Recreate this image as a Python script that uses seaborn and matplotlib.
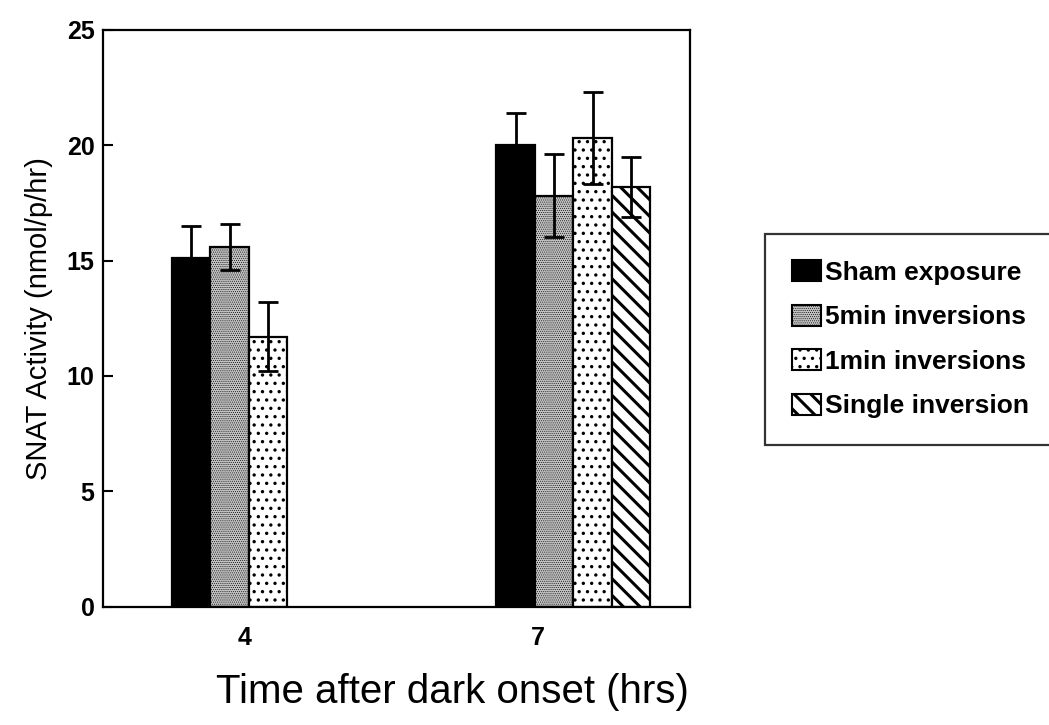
import numpy as np
import matplotlib.pyplot as plt
import pandas as pd
import seaborn as sns
from matplotlib.patches import Patch

# values
times = ["4", "7"]
treatments = ["Sham exposure", "5min inversions", "1min inversions", "Single inversion"]
snat_4 = [15.1, 15.6, 11.7]
snat_7 = [20.0, 17.8, 20.3, 18.2]
sem_4 = [1.4, 1.0, 1.5]
sem_7 = [1.4, 1.8, 2.0, 1.3]

colors = {"Sham exposure": "black", "5min inversions": "#c2c2c2",
          "1min inversions": "white", "Single inversion": "white"}
hatches = ["", "........", "..", "\\\\"]
hatch_lw = [1.0, 0.4, 1.2, 2.2]

rows = []
for t, vals, errs in [("4", snat_4, sem_4), ("7", snat_7, sem_7)]:
    for trt, v, e in zip(treatments, vals, errs):
        rows.append({"time": t, "treatment": trt, "snat": v, "sem": e})
df = pd.DataFrame(rows)

sns.set_theme(style="ticks")
plt.rcParams["font.family"] = ["Liberation Sans", "DejaVu Sans"]
plt.rcParams["hatch.linewidth"] = 2.0
for k in ["text.color", "axes.labelcolor", "xtick.color", "ytick.color"]:
    plt.rcParams[k] = "black"

fig = plt.figure(figsize=(10.49, 7.25), dpi=100)
ax = fig.add_axes([0.098, 0.163, 0.56, 0.796])

sns.barplot(data=df, x="time", y="snat", hue="treatment", order=times, hue_order=treatments,
            palette=colors, width=0.475, edgecolor="black", linewidth=1.6, errorbar=None,
            legend=False, ax=ax)


def style_patch(p, i):
    p.set_hatch(hatches[i])
    if hasattr(p, "set_hatch_linewidth"):
        p.set_hatch_linewidth(hatch_lw[i])


bar_containers = list(ax.containers)
for i, cont in enumerate(bar_containers):
    trt = treatments[i]
    sub = df[df["treatment"] == trt].set_index("time")
    for bar in cont:
        style_patch(bar, i)
        xc = bar.get_x() + bar.get_width() / 2
        t = times[int(round(xc))]
        ax.errorbar(xc, sub.loc[t, "snat"], yerr=sub.loc[t, "sem"], fmt="none",
                    ecolor="black", elinewidth=2.0, capsize=7, capthick=2.0, zorder=5)

ax.set_xlim(-0.45, 1.36)
ax.set_ylim(0, 25)
ax.set_yticks([0, 5, 10, 15, 20, 25])
ax.set_xticks([-0.012, 0.89], times)
ax.tick_params(axis="y", length=7, width=1.5, labelsize=18, direction="in", pad=6)
ax.tick_params(axis="x", length=0, labelsize=18, pad=14)
for lbl in ax.get_xticklabels() + ax.get_yticklabels():
    lbl.set_fontweight("bold")
for s in ax.spines.values():
    s.set_linewidth(1.6)
    s.set_color("black")

ax.set_ylabel("SNAT Activity (nmol/p/hr)", fontsize=21, labelpad=10)
ax.set_xlabel("Time after dark onset (hrs)", fontsize=29)
ax.xaxis.set_label_coords(0.595, -0.115)

handles = [Patch(facecolor=colors[t], edgecolor="black", linewidth=1.5, label=t)
           for t in treatments]
leg = fig.legend(handles=handles, loc="center", bbox_to_anchor=(0.8675, 0.532),
                 frameon=True, fancybox=False, edgecolor="black",
                 handlelength=1.1, handleheight=0.85, handletextpad=0.15,
                 labelspacing=0.75, borderpad=1.0, prop={"weight": "bold", "size": 19})
leg.get_frame().set_linewidth(1.6)
for i, h in enumerate(leg.legend_handles):
    style_patch(h, i)

fig.savefig("out.png", dpi=100)
